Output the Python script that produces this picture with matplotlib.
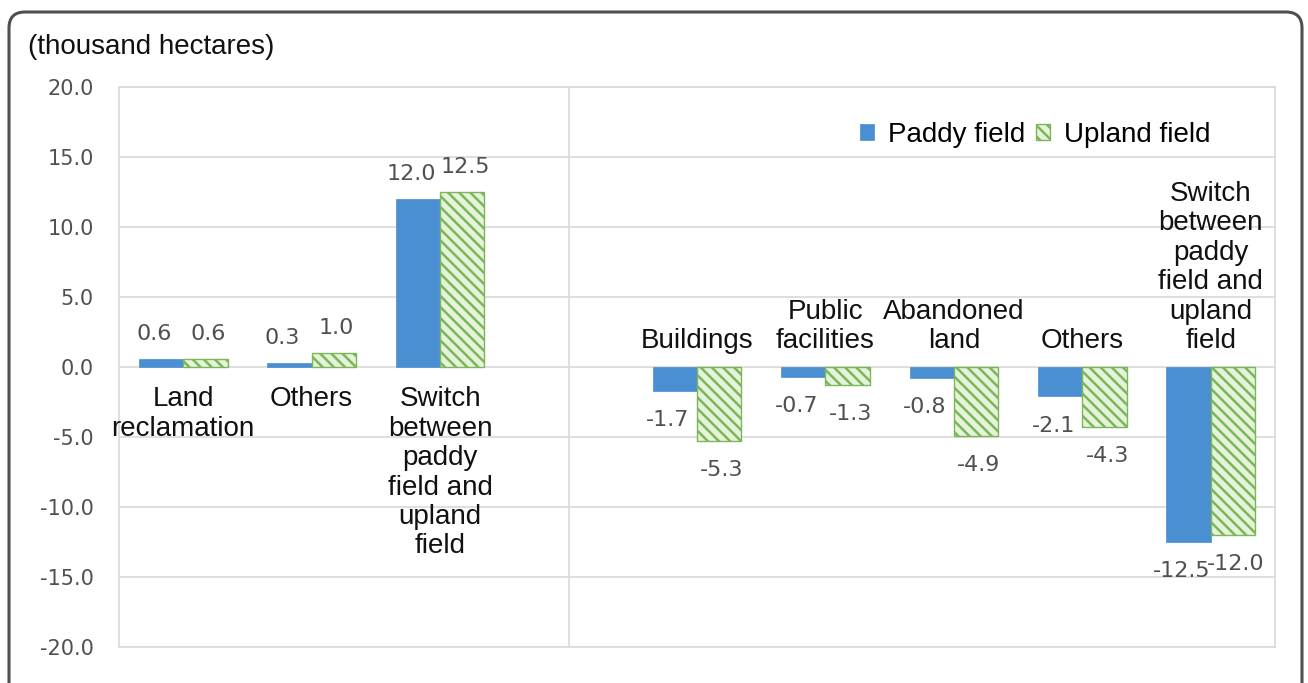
import matplotlib
matplotlib.use("Agg")
import matplotlib.pyplot as plt
from matplotlib.patches import FancyBboxPatch
from matplotlib.transforms import IdentityTransform
import numpy as np

# ---- data ----
categories = ["Land\nreclamation", "Others",
              "Switch\nbetween\npaddy\nfield and\nupland\nfield",
              "",
              "Buildings", "Public\nfacilities", "Abandoned\nland", "Others",
              "Switch\nbetween\npaddy\nfield and\nupland\nfield"]
paddy = [0.6, 0.3, 12.0, np.nan, -1.7, -0.7, -0.8, -2.1, -12.5]
upland = [0.6, 1.0, 12.5, np.nan, -5.3, -1.3, -4.9, -4.3, -12.0]
yticks = [20, 15, 10, 5, 0, -5, -10, -15, -20]
unit_label = "(thousand hectares)"
series_names = ["Paddy field", "Upland field"]

BLUE = "#4A8FD1"
GREEN_EDGE = "#7CB65A"
GREEN_FACE = "#E6F3DB"
GRID = "#D9D9D9"
TXT_GRAY = "#505050"

plt.rcParams["hatch.linewidth"] = 1.8
W, H = 1308, 683
fig = plt.figure(figsize=(W / 100, H / 100), dpi=100)
ax = fig.add_axes([119 / W, 1 - 647 / H, (1275 - 119) / W, (647 - 87) / H])

x = np.arange(len(categories))
bw = 0.345
ax.bar(x - bw / 2, paddy, width=bw, color=BLUE, edgecolor=BLUE, linewidth=0.5,
       zorder=3, label=series_names[0])
ax.bar(x + bw / 2, upland, width=bw, facecolor=GREEN_FACE, edgecolor=GREEN_EDGE,
       hatch="\\\\\\", linewidth=1.0, zorder=3, label=series_names[1])

ax.set_xlim(-0.5, len(categories) - 0.5)
ax.set_ylim(-20, 20)
ax.set_yticks(yticks)
ax.set_yticklabels([f"{t:.1f}" for t in yticks], fontsize=15, color=TXT_GRAY,
                   family="DejaVu Sans")
ax.tick_params(axis="y", length=0, pad=18)
ax.set_xticks([])
ax.grid(axis="y", color=GRID, linewidth=1.2, zorder=0)
for s in ax.spines.values():
    s.set_color(GRID)
    s.set_linewidth(1.2)
ax.axvline(3, color=GRID, linewidth=1.2, zorder=1)

# data labels
for xs, vals, dx in ((x - bw / 2, paddy, -5), (x + bw / 2, upland, 2)):
    for xi, v in zip(xs, vals):
        if np.isnan(v):
            continue
        off = 18 if v >= 0 else -21
        ax.annotate(f"{v:.1f}", (xi, v), xytext=(dx, off), textcoords="offset points",
                    ha="center", va="center", fontsize=16, color=TXT_GRAY,
                    family="DejaVu Sans", zorder=4)

# category labels
for xi, name, v in zip(x, categories, paddy):
    if not name:
        continue
    if v >= 0:
        ax.annotate(name, (xi, 0), xytext=(0, -14), textcoords="offset points",
                    ha="center", va="top", fontsize=20, family="Liberation Sans",
                    linespacing=1.17, color="#111111", zorder=4)
    else:
        ax.annotate(name, (xi, 0), xytext=(0, 9.4), textcoords="offset points",
                    ha="center", va="bottom", fontsize=20, family="Liberation Sans",
                    linespacing=1.17, color="#111111", zorder=4)

leg = ax.legend(loc="center", bbox_to_anchor=(1035 / W, 1 - 135 / H),
                bbox_transform=fig.transFigure, ncol=2, frameon=False,
                prop={"family": "Liberation Sans", "size": 20},
                handlelength=0.5, handleheight=0.5, handletextpad=0.5,
                columnspacing=0.4, borderpad=0)

fig.text(28 / W, 1 - 47 / H, unit_label, fontsize=20, family="Liberation Sans",
         ha="left", va="center", color="#111111")

# outer rounded border
border = FancyBboxPatch((9, -30), 1302 - 9, (683 - 12) + 30,
                        boxstyle="round,pad=0,rounding_size=16",
                        transform=IdentityTransform(), facecolor="none",
                        edgecolor="#505050", linewidth=2.2, clip_on=False)
fig.patches.append(border)

fig.savefig("out.png", dpi=100)
